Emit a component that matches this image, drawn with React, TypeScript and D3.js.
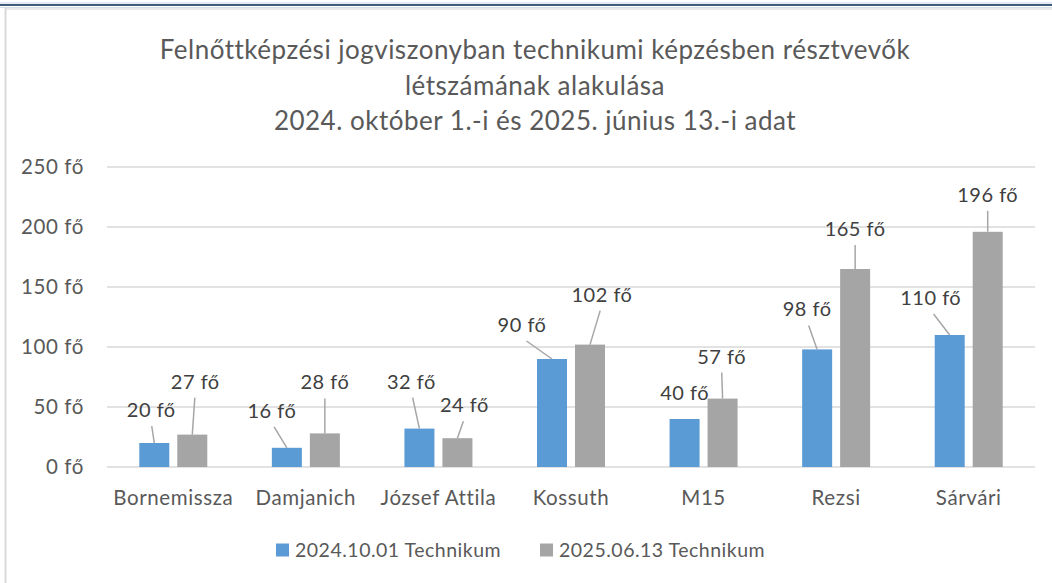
import * as d3 from 'd3';
import { useRef, useEffect } from 'react';

const titleLines = [
  'Felnőttképzési jogviszonyban technikumi képzésben résztvevők',
  'létszámának alakulása',
  '2024. október 1.-i és 2025. június 13.-i adat',
];
const categories = ['Bornemissza', 'Damjanich', 'József Attila', 'Kossuth', 'M15', 'Rezsi', 'Sárvári'];
const seriesNames = ['2024.10.01 Technikum', '2025.06.13 Technikum'];
const values2024 = [20, 16, 32, 90, 40, 98, 110];
const values2025 = [27, 28, 24, 102, 57, 165, 196];
const yTicks = [0, 50, 100, 150, 200, 250];

// where Excel dragged the data labels (px from top of bar)
const labelShift2024 = [[-3, -33], [-15, -37], [-8, -47], [-30, -34], [0, -26], [-10, -40], [-19, -37]];
const labelShift2025 = [[3, -53], [0, -51], [7, -33], [12, -50], [-1, -42], [0, -40], [0, -37]];

const colors = ['#5B9BD5', '#A5A5A5'];
const textColor = '#595959';
const font = 'Lato, "Open Sans", sans-serif';

export default function App() {
  const svgRef = useRef(null);

  useEffect(() => {
    const width = 1052;
    const height = 583;
    const svg = d3.select(svgRef.current);
    svg.selectAll('*').remove();
    svg.attr('width', width).attr('height', height);

    svg.append('rect').attr('width', width).attr('height', height).attr('fill', '#fff');

    // frame (cropped Excel chart border)
    svg.append('line').attr('x1', 0).attr('x2', width).attr('y1', 3).attr('y2', 3)
      .attr('stroke', '#c9d6e3').attr('stroke-width', 1);
    svg.append('line').attr('x1', 0).attr('x2', width).attr('y1', 5).attr('y2', 5)
      .attr('stroke', '#3f5c7b').attr('stroke-width', 2);
    svg.append('line').attr('x1', 0).attr('x2', width).attr('y1', 7.5).attr('y2', 7.5)
      .attr('stroke', '#d6dde5').attr('stroke-width', 1);
    svg.append('line').attr('x1', 5).attr('x2', width).attr('y1', 9).attr('y2', 9)
      .attr('stroke', '#e2e2e2').attr('stroke-width', 1.5);
    svg.append('line').attr('x1', 5.5).attr('x2', 5.5).attr('y1', 8).attr('y2', height)
      .attr('stroke', '#d9d9d9').attr('stroke-width', 2);

    // title
    svg.append('g').selectAll('text')
      .data(titleLines)
      .enter().append('text')
      .attr('x', 535)
      .attr('y', (d, i) => 59 + i * 35.5)
      .attr('text-anchor', 'middle')
      .attr('font-family', font)
      .attr('font-size', 26)
      .attr('letter-spacing', 0.5)
      .attr('fill', textColor)
      .text((d) => d);

    const x0 = d3.scaleBand().domain(categories).range([107, 1035]);
    const x1 = d3.scaleBand().domain(['a', 'b']).range([0, 68]).paddingInner(0.2105);
    const y = d3.scaleLinear().domain([0, 250]).range([467, 167]);

    // gridlines + y labels
    const grid = svg.append('g');
    grid.selectAll('line')
      .data(yTicks)
      .enter().append('line')
      .attr('x1', 107).attr('x2', 1035)
      .attr('y1', (d) => y(d)).attr('y2', (d) => y(d))
      .attr('stroke', '#d9d9d9').attr('stroke-width', 1.5);
    grid.selectAll('text')
      .data(yTicks)
      .enter().append('text')
      .attr('x', 84)
      .attr('y', (d) => y(d))
      .attr('dy', '0.35em')
      .attr('text-anchor', 'end')
      .attr('font-family', font)
      .attr('font-size', 20.5)
      .attr('letter-spacing', 0.6)
      .attr('fill', textColor)
      .text((d) => `${d} fő`);

    // category labels
    svg.append('g').selectAll('text')
      .data(categories)
      .enter().append('text')
      .attr('x', (d) => x0(d) + x0.bandwidth() / 2)
      .attr('y', 498)
      .attr('dy', '0.35em')
      .attr('text-anchor', 'middle')
      .attr('font-family', font)
      .attr('font-size', 20.5)
      .attr('letter-spacing', 0.6)
      .attr('fill', textColor)
      .text((d) => d);

    const groupOffset = (x0.bandwidth() - 68) / 2;
    const seriesList = [
      { key: 'a', values: values2024, shift: labelShift2024, color: colors[0] },
      { key: 'b', values: values2025, shift: labelShift2025, color: colors[1] },
    ];

    seriesList.forEach((s) => {
      const pts = categories.map((c, i) => {
        const bx = x0(c) + groupOffset + x1(s.key);
        const cx = bx + x1.bandwidth() / 2;
        const top = y(s.values[i]);
        const [dx, dy] = s.shift[i];
        return { v: s.values[i], bx, cx, top, lx: cx + dx, ly: top + dy, leader: dy < -30 };
      });
      const g = svg.append('g');
      g.selectAll('rect')
        .data(pts)
        .enter().append('rect')
        .attr('x', (d) => d.bx)
        .attr('y', (d) => d.top)
        .attr('width', x1.bandwidth())
        .attr('height', (d) => y(0) - d.top)
        .attr('fill', s.color);
      g.selectAll('line')
        .data(pts.filter((d) => d.leader))
        .enter().append('line')
        .attr('x1', (d) => d.lx + (d.cx - d.lx) * 0.15)
        .attr('y1', (d) => d.ly + 16)
        .attr('x2', (d) => d.cx)
        .attr('y2', (d) => d.top)
        .attr('stroke', '#a6a6a6')
        .attr('stroke-width', 1.5);
      g.selectAll('text')
        .data(pts)
        .enter().append('text')
        .attr('x', (d) => d.lx)
        .attr('y', (d) => d.ly)
        .attr('dy', '0.35em')
        .attr('text-anchor', 'middle')
        .attr('font-family', font)
        .attr('font-size', 20)
        .attr('letter-spacing', 0.5)
        .attr('fill', '#404040')
        .text((d) => `${d.v} fő`);
    });

    // legend
    const legendX = [276, 540];
    const legend = svg.append('g').selectAll('g')
      .data(seriesNames)
      .enter().append('g')
      .attr('transform', (d, i) => `translate(${legendX[i]}, 550)`);
    legend.append('rect')
      .attr('x', 0).attr('y', -6.5).attr('width', 13).attr('height', 13)
      .attr('fill', (d, i) => colors[i]);
    legend.append('text')
      .attr('x', 19)
      .attr('dy', '0.35em')
      .attr('font-family', font)
      .attr('font-size', 19.5)
      .attr('letter-spacing', 0.5)
      .attr('fill', textColor)
      .text((d) => d);
  }, []);

  return (
    <svg ref={svgRef} style={{ position: 'absolute', left: 0, top: 0, display: 'block' }}></svg>
  );
}
